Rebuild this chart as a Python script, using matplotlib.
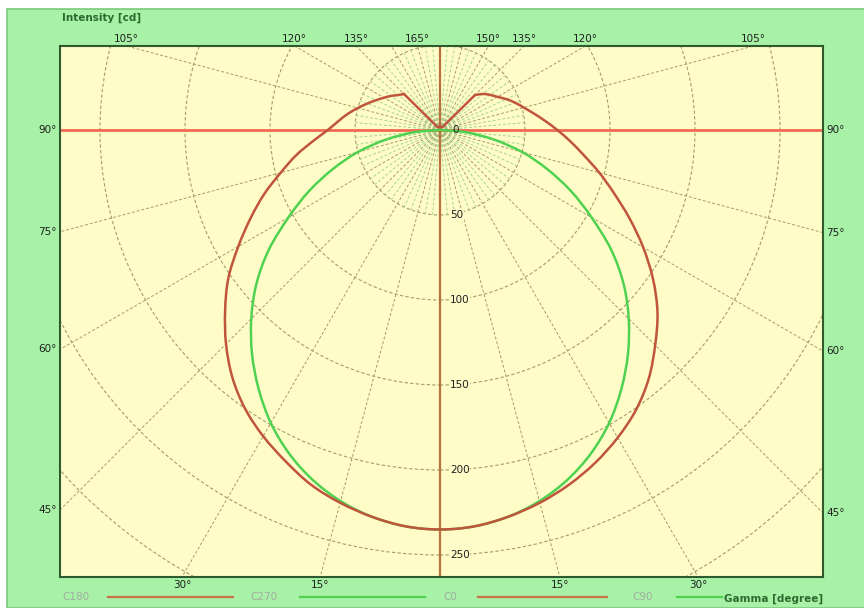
import numpy as np
import matplotlib
matplotlib.use('Agg')
import matplotlib.pyplot as plt
from matplotlib.lines import Line2D
from matplotlib.patches import Circle, Rectangle, PathPatch
from matplotlib.path import Path

# luminous intensity distribution, gamma in degrees, intensity in cd
gamma_red = np.arange(0, 181, 5)
c0 = [235, 234, 231, 227, 222, 216, 209, 201, 191, 179, 167, 153, 138, 123, 109,
      97, 86, 77, 69, 62, 56, 51, 47, 43, 39, 36, 33, 29, 2, 2, 2, 2, 2, 2, 2, 2, 2]
c180 = [235, 234, 231, 227, 222, 215, 208, 200, 190, 178, 165, 152, 137, 123, 110,
        97, 86, 75, 66, 60, 55, 50, 45.5, 41.5, 38, 35, 32, 30, 2, 2, 2, 2, 2, 2, 2, 2, 2]

gamma_green = np.arange(0, 91, 5)
c90 = [235, 234, 231, 226, 219, 210, 199, 186, 172, 157, 141, 123, 103, 85, 67, 50, 32, 15, 0]
c270 = [235, 234, 231, 226, 219, 210, 199, 186, 172, 157, 141, 123, 103, 85, 67, 50, 32, 15, 0]

radii = [50, 100, 150, 200, 250, 300]
left_labels = [15, 30, 45, 60, 75, 90, 105, 120, 135, 165]
right_labels = [15, 30, 45, 60, 75, 90, 105, 120, 135, 150]
legend_names = ['C180', 'C270', 'C0', 'C90']

W, H = 864, 608
px_per_cd = 1.7
ox, oy = 440, 130            # pole position in pixels
ax_l, ax_r, ax_t, ax_b = 60, 823, 46, 577
cutoff = 135                 # the red curves fall straight to the pole past this angle

BG = '#a8f2a8'
PANEL = '#fffcc8'
FRAME = '#2e5a2e'
GRID = '#a89a6a'
RED = '#c0553c'
GREEN = '#4fd24f'
TXT = '#1e1e1e'

fig = plt.figure(figsize=(W / 100, H / 100), dpi=100, facecolor='white')
fig.add_artist(Rectangle((7 / W, 0), 1, 1 - 9 / H, transform=fig.transFigure,
                         facecolor=BG, edgecolor='#7cc87c', linewidth=1.2,
                         zorder=-10))

ax = fig.add_axes([ax_l / W, 1 - ax_b / H, (ax_r - ax_l) / W, (ax_b - ax_t) / H])
ax.set_facecolor(PANEL)
x0, x1 = (ax_l - ox) / px_per_cd, (ax_r - ox) / px_per_cd
y0, y1 = -(ax_b - oy) / px_per_cd, (oy - ax_t) / px_per_cd
ax.set_xlim(x0, x1)
ax.set_ylim(y0, y1)
ax.set_xticks([])
ax.set_yticks([])
for sp in ax.spines.values():
    sp.set_color(FRAME)
    sp.set_linewidth(1.5)


def to_xy(g, r, side):
    g = np.radians(np.asarray(g, dtype=float))
    r = np.asarray(r, dtype=float)
    return side * r * np.sin(g), -r * np.cos(g)


def smooth_path(xs, ys):
    # Catmull-Rom through the measured points, as cubic Bezier segments
    p = np.column_stack([xs, ys])
    n = len(p)
    verts, codes = [p[0]], [Path.MOVETO]
    for i in range(n - 1):
        pa = p[i - 1] if i > 0 else p[i]
        pd = p[i + 2] if i + 2 < n else p[i + 1]
        verts += [p[i] + (p[i + 1] - pa) / 6, p[i + 1] - (pd - p[i]) / 6, p[i + 1]]
        codes += [Path.CURVE4] * 3
    return Path(verts, codes)


def plane_pair(g, left, right, color, z, lim=None):
    g = np.asarray(g)
    left = np.asarray(left, dtype=float)
    right = np.asarray(right, dtype=float)
    m = g <= (lim if lim is not None else g.max())
    lx, ly = to_xy(g[m], left[m], -1)
    rx, ry = to_xy(g[m], right[m], 1)
    xs = np.concatenate([lx[::-1], rx[1:]])
    ys = np.concatenate([ly[::-1], ry[1:]])
    ax.add_patch(PathPatch(smooth_path(xs, ys), fill=False, edgecolor=color,
                           lw=1.8, zorder=z, capstyle='round', joinstyle='round'))
    if lim is not None:
        t = g >= lim
        for side, vals in ((-1, left), (1, right)):
            ax.plot(*to_xy(g[t], vals[t], side), color=color, lw=1.8, zorder=z,
                    solid_joinstyle='round')


# concentric intensity circles
for r in radii:
    ax.add_patch(Circle((0, 0), r, fill=False, edgecolor=GRID, linewidth=0.8,
                        linestyle=(0, (3, 2)), zorder=1))

# gamma spokes: every 15 deg across the panel, every 5 deg near the pole
for side in (1, -1):
    for g in range(0, 181, 5):
        rmax = 600 if g % 15 == 0 else 50
        col = GRID if g % 15 == 0 else '#a6d494'
        xs, ys = to_xy([g, g], [0, rmax], side)
        ax.plot(xs, ys, color=col, lw=0.7, ls=(0, (3, 2)), zorder=1)

ax.axhline(0, color='#f26a52', lw=2.0, zorder=2)
ax.axvline(0, color='#b8703e', lw=1.6, zorder=2)

# distribution curves: C270/C90 in green, C180/C0 in red
plane_pair(gamma_green, c270, c90, GREEN, 3)
plane_pair(gamma_red, c180, c0, RED, 4, lim=cutoff)

# intensity labels along the vertical axis
ax.text(7, 0, '0', fontsize=7.5, color=TXT, ha='left', va='center', zorder=5)
for r in radii[:5]:
    ax.text(6, -r, str(r), fontsize=7.5, color=TXT, ha='left', va='center',
            zorder=5, bbox=dict(boxstyle='square,pad=0.05', fc=PANEL, ec='none'))


# gamma labels where each spoke leaves the panel
def edge_label(g, side):
    dx, dy = to_xy(g, 1.0, side)
    ts = []
    if dx > 1e-9:
        ts.append((x1 / dx, 'right'))
    if dx < -1e-9:
        ts.append((x0 / dx, 'left'))
    if dy > 1e-9:
        ts.append((y1 / dy, 'top'))
    if dy < -1e-9:
        ts.append((y0 / dy, 'bottom'))
    t, edge = min(ts)
    px, py = t * dx, t * dy
    txt = f'{g}°'
    kw = dict(fontsize=7.5, color=TXT, clip_on=False)
    if edge == 'top':
        ax.text(px, py + 1, txt, ha='center', va='bottom', **kw)
    elif edge == 'bottom':
        ax.text(px, py - 1.5, txt, ha='center', va='top', **kw)
    elif edge == 'left':
        ax.text(px - 2, py, txt, ha='right', va='center', **kw)
    else:
        ax.text(px + 2, py, txt, ha='left', va='center', **kw)


for g in left_labels:
    edge_label(g, -1)
for g in right_labels:
    edge_label(g, 1)

fig.text(62 / W, 1 - 18 / H, 'Intensity [cd]', fontsize=7.5, fontweight='bold',
         color='#2d6a2d', ha='left', va='center')
fig.text(823 / W, 1 - 599 / H, 'Gamma [degree]', fontsize=7.5, fontweight='bold',
         color='#2d6a2d', ha='right', va='center')

# legend row
legend_colors = ['#c8724a', GREEN, '#c8724a', GREEN]
text_x = [62, 250, 443, 632]
line_x = [(108, 233), (300, 425), (478, 607), (677, 722)]
for name, col, tx, (la, lb) in zip(legend_names, legend_colors, text_x, line_x):
    fig.text(tx / W, 1 - 597 / H, name, fontsize=7.5, color='#a3aca3',
             ha='left', va='center')
    fig.add_artist(Line2D([la / W, lb / W], [1 - 597 / H, 1 - 597 / H],
                          transform=fig.transFigure, color=col, lw=1.6))

fig.savefig('out.png', dpi=100, facecolor=fig.get_facecolor())
